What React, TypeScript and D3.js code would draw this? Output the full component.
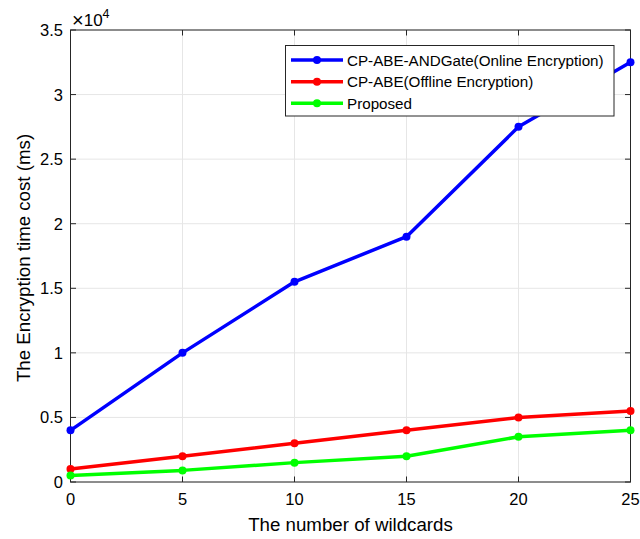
import React from "react";
import * as d3 from "d3";

const wildcards = [0, 5, 10, 15, 20, 25];
const onlineEnc = [4000, 10000, 15500, 19000, 27500, 32500];
const offlineEnc = [1000, 2000, 3000, 4000, 5000, 5500];
const proposed = [500, 900, 1500, 2000, 3500, 4000];

const seriesNames = [
  "CP-ABE-ANDGate(Online Encryption)",
  "CP-ABE(Offline Encryption)",
  "Proposed",
];
const seriesColors = ["#0000ff", "#ff0000", "#00ff00"];

const xTicks = [0, 5, 10, 15, 20, 25];
const yTicks = [0, 5000, 10000, 15000, 20000, 25000, 30000, 35000];
const yTickLabels = ["0", "0.5", "1", "1.5", "2", "2.5", "3", "3.5"];

const W = 640;
const H = 539;
const M = { left: 70.5, right: 630.5, top: 30, bottom: 482 };
const FONT = "'Liberation Sans', Arial, Helvetica, sans-serif";
const AXIS = "#262626";

export default function App() {
  const x = d3.scaleLinear().domain([0, 25]).range([M.left, M.right]);
  const y = d3.scaleLinear().domain([0, 35000]).range([M.bottom, M.top]);
  const line = d3
    .line<number>()
    .x((_, i) => x(wildcards[i]))
    .y((d) => y(d));
  const series = [onlineEnc, offlineEnc, proposed];

  const lg = { x: 285.5, y: 45.5, w: 328.5, h: 70.5 };
  const rowY = [60, 81.7, 103.3];

  return (
    <svg
      width={W}
      height={H}
      style={{ position: "absolute", left: 0, top: 0, background: "#fff" }}
      fontFamily={FONT}
    >
      <rect x={0} y={0} width={W} height={H} fill="#fff" />
      {/* grid */}
      {xTicks.map((t) => (
        <line key={"gx" + t} x1={x(t)} x2={x(t)} y1={M.top} y2={M.bottom} stroke="#e6e6e6" strokeWidth={1} />
      ))}
      {yTicks.map((t) => (
        <line key={"gy" + t} x1={M.left} x2={M.right} y1={y(t)} y2={y(t)} stroke="#e6e6e6" strokeWidth={1} />
      ))}
      {/* box */}
      <rect x={M.left} y={M.top} width={M.right - M.left} height={M.bottom - M.top} fill="none" stroke={AXIS} strokeWidth={1} />
      {/* ticks */}
      {xTicks.map((t) => (
        <g key={"tx" + t}>
          <line x1={x(t)} x2={x(t)} y1={M.bottom} y2={M.bottom - 5.5} stroke={AXIS} />
          <line x1={x(t)} x2={x(t)} y1={M.top} y2={M.top + 5.5} stroke={AXIS} />
          <text x={x(t)} y={M.bottom + 23} textAnchor="middle" fontSize={16.5} fill="#000">
            {t}
          </text>
        </g>
      ))}
      {yTicks.map((t, i) => (
        <g key={"ty" + t}>
          <line x1={M.left} x2={M.left + 5.5} y1={y(t)} y2={y(t)} stroke={AXIS} />
          <line x1={M.right} x2={M.right - 5.5} y1={y(t)} y2={y(t)} stroke={AXIS} />
          <text x={M.left - 7.5} y={y(t) + 6} textAnchor="end" fontSize={16.5} fill="#000">
            {yTickLabels[i]}
          </text>
        </g>
      ))}
      {/* exponent */}
      <text x={72} y={26} fontSize={17} fill="#000">
        <tspan fontSize={20} dy={1}>×</tspan>
        <tspan dy={-1}>10</tspan>
        <tspan dy={-8} fontSize={12.5}>4</tspan>
      </text>
      {/* axis labels */}
      <text x={(M.left + M.right) / 2} y={531} textAnchor="middle" fontSize={18.7} fill="#000">
        The number of wildcards
      </text>
      <text
        transform={`translate(30, ${(M.top + M.bottom) / 2 + 2}) rotate(-90)`}
        textAnchor="middle"
        fontSize={18.7}
        fill="#000"
      >
        The Encryption time cost (ms)
      </text>
      {/* series */}
      {series.map((s, si) => (
        <g key={"s" + si}>
          <path d={line(s) || ""} fill="none" stroke={seriesColors[si]} strokeWidth={3.5} strokeLinejoin="round" />
          {s.map((v, i) => (
            <circle key={i} cx={x(wildcards[i])} cy={y(v)} r={4} fill={seriesColors[si]} />
          ))}
        </g>
      ))}
      {/* legend */}
      <rect x={lg.x} y={lg.y} width={lg.w} height={lg.h} fill="#fff" stroke="#262626" strokeWidth={1} />
      {seriesNames.map((n, i) => (
        <g key={"lg" + i}>
          <line x1={291} x2={343} y1={rowY[i]} y2={rowY[i]} stroke={seriesColors[i]} strokeWidth={3.5} />
          <circle cx={317} cy={rowY[i]} r={4} fill={seriesColors[i]} />
          <text x={347} y={rowY[i] + 5.5} fontSize={15.2} fill="#000">
            {n}
          </text>
        </g>
      ))}
    </svg>
  );
}
